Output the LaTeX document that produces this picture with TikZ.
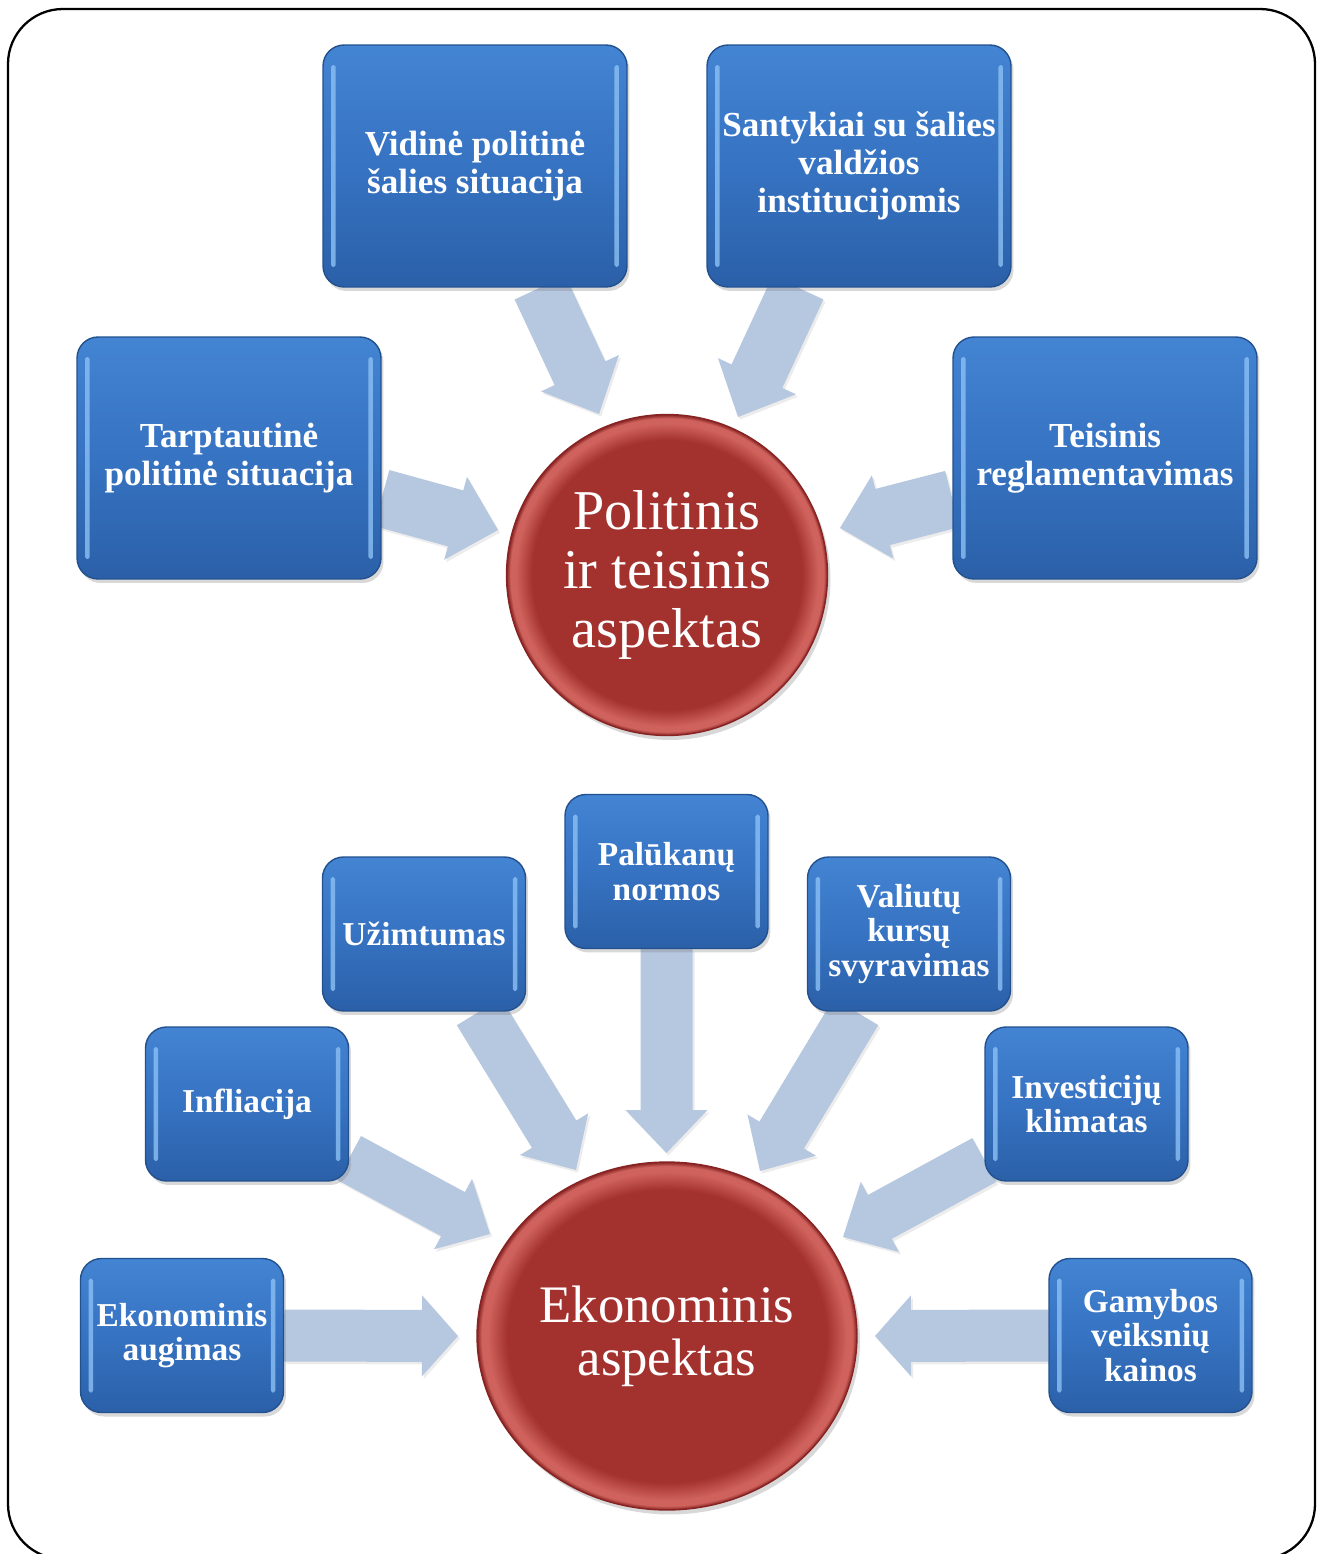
\documentclass[tikz,border=0pt]{standalone}
\usepackage{fontspec}
\setmainfont{Liberation Serif}
\usetikzlibrary{calc,shadows,shapes.geometric}
\definecolor{boxtop}{HTML}{4384D3}
\definecolor{boxmid}{HTML}{3673C2}
\definecolor{boxbot}{HTML}{2B60A8}
\definecolor{boxedge}{HTML}{23518E}
\definecolor{boxhl}{HTML}{8CC0F4}
\definecolor{arrowc}{HTML}{B6C7E0}
\definecolor{cred}{HTML}{A3312E}
\definecolor{crim}{HTML}{CF625C}
\definecolor{cedge}{HTML}{872323}
\pgfdeclareradialshading{redball}{\pgfpoint{0bp}{0bp}}{color(0bp)=(cred); color(21bp)=(cred); color(23.6bp)=(crim); color(24.4bp)=(crim); color(25bp)=(cedge); color(50bp)=(cedge)}
\pgfdeclarelayer{bg}
\pgfsetlayers{bg,main}
\tikzset{
  box/.style={rounded corners=0.42cm, top color=boxtop, bottom color=boxbot, middle color=boxmid,
    draw=boxedge, line width=0.8pt, text=white, align=center, inner sep=0pt,
    drop shadow={shadow xshift=0.05cm, shadow yshift=-0.08cm, opacity=0.3},
    path picture={
      \fill[boxhl, opacity=0.8, rounded corners=1pt]
        ([xshift=0.16cm,yshift=-0.4cm]path picture bounding box.north west) rectangle
        ([xshift=0.25cm,yshift=0.4cm]path picture bounding box.south west);
      \fill[boxhl, opacity=0.8, rounded corners=1pt]
        ([xshift=-0.16cm,yshift=-0.4cm]path picture bounding box.north east) rectangle
        ([xshift=-0.25cm,yshift=0.4cm]path picture bounding box.south east);
    }},
  bigbox/.style={box, minimum width=6.08cm, minimum height=4.84cm,
    font=\fontsize{20}{21.5}\selectfont\bfseries},
  smallbox/.style={box, minimum width=4.06cm, minimum height=3.08cm,
    font=\fontsize{19}{19.5}\selectfont\bfseries},
  aspect/.style={shading=redball, draw=cedge, line width=0.8pt, text=white, align=center,
    inner sep=0pt, drop shadow={shadow xshift=0.06cm, shadow yshift=-0.09cm, opacity=0.3}},
  polc/.style={aspect, circle, minimum size=6.42cm, font=\fontsize{32}{33.5}\selectfont},
  ekc/.style={aspect, ellipse, minimum width=7.6cm, minimum height=6.96cm, font=\fontsize{30}{30}\selectfont},
  blockar/.style={fill=arrowc, drop shadow={shadow xshift=0.04cm, shadow yshift=-0.05cm, opacity=0.15}},
  frame/.style={draw=black, line width=1.3pt, rounded corners=1.1cm}
}
% #1 start, #2 tip, #3 shaft half width, #4 head half width, #5 head length
\newcommand{\blockarrow}[5]{%
  \coordinate (ab) at ($(#2)!#5!(#1)$);
  \fill[blockar] ($(#1)!#3!90:(#2)$) -- ($(ab)!#3!-90:(#1)$) -- ($(ab)!#4!-90:(#1)$) -- (#2)
    -- ($(ab)!#4!90:(#1)$) -- ($(ab)!#3!90:(#1)$) -- ($(#1)!#3!-90:(#2)$) -- cycle;}
\begin{document}
\begin{tikzpicture}[x=0.02cm, y=-0.02cm]
\useasboundingbox (0,0) rectangle (1317,1554);
% upper part
\node[bigbox] (vid) at (475,166) {Vidinė politinė\\šalies situacija};
\node[bigbox] (sant) at (859,166) {Santykiai su šalies\\valdžios\\institucijomis};
\node[bigbox] (tarp) at (229,458) {Tarptautinė\\politinė situacija};
\node[bigbox] (teis) at (1105,458) {Teisinis\\reglamentavimas};
\node[polc] (pol) at (667,575) {Politinis\\ir teisinis\\aspektas};
% lower part
\node[smallbox] (palu) at (666.5,871.5) {Palūkanų\\normos};
\node[smallbox] (uzim) at (424,934) {Užimtumas};
\node[smallbox] (val) at (909,934) {Valiutų\\kursų\\svyravimas};
\node[smallbox] (infl) at (247,1104) {Infliacija};
\node[smallbox] (inv) at (1086.5,1104) {Investicijų\\klimatas};
\node[smallbox] (eaug) at (182,1335.5) {Ekonominis\\augimas};
\node[smallbox] (gam) at (1150.5,1335.5) {Gamybos\\veiksnių\\kainos};
\node[ekc] (eko) at (667,1336) {Ekonominis\\aspektas};
% arrow start and tip points
\coordinate (s1) at ([yshift=-0.8cm]tarp.east);
\coordinate (t1) at (498,530);
\coordinate (s2) at ([yshift=-0.82cm]teis.west);
\coordinate (t2) at (840,528);
\coordinate (s3) at ([xshift=1.3cm]vid.south);
\coordinate (t3) at (599,414);
\coordinate (s4) at ([xshift=-1.22cm]sant.south);
\coordinate (t4) at (738,417);
\coordinate (s5) at ([xshift=1.1cm]uzim.south);
\coordinate (t5) at (576,1170);
\coordinate (s6) at (palu.south);
\coordinate (t6) at (666.5,1153);
\coordinate (s7) at ([xshift=-1.06cm]val.south);
\coordinate (t7) at (760,1171);
\coordinate (s8) at ([yshift=-1.08cm]infl.east);
\coordinate (t8) at (490,1234);
\coordinate (s9) at ([yshift=-1.12cm]inv.west);
\coordinate (t9) at (843,1237);
\coordinate (s10) at (eaug.east);
\coordinate (t10) at (458,1336);
\coordinate (s11) at (gam.west);
\coordinate (t11) at (875,1336);
\begin{pgfonlayer}{bg}
  \fill[white] (0,0) rectangle (1317,1554);
  \begin{scope}
    \clip (0,0) rectangle (1317,1554);
    \draw[frame] (8,9) rectangle (1315,1559);
  \end{scope}
  \blockarrow{s1}{t1}{0.58cm}{0.86cm}{0.88cm}
  \blockarrow{s2}{t2}{0.58cm}{0.86cm}{0.88cm}
  \blockarrow{s3}{t3}{0.56cm}{0.86cm}{0.9cm}
  \blockarrow{s4}{t4}{0.56cm}{0.86cm}{0.9cm}
  \blockarrow{s5}{t5}{0.52cm}{0.8cm}{0.84cm}
  \blockarrow{s6}{t6}{0.52cm}{0.82cm}{0.86cm}
  \blockarrow{s7}{t7}{0.52cm}{0.8cm}{0.84cm}
  \blockarrow{s8}{t8}{0.5cm}{0.8cm}{0.84cm}
  \blockarrow{s9}{t9}{0.5cm}{0.8cm}{0.84cm}
  \blockarrow{s10}{t10}{0.52cm}{0.81cm}{0.72cm}
  \blockarrow{s11}{t11}{0.52cm}{0.81cm}{0.72cm}
\end{pgfonlayer}
\end{tikzpicture}
\end{document}
